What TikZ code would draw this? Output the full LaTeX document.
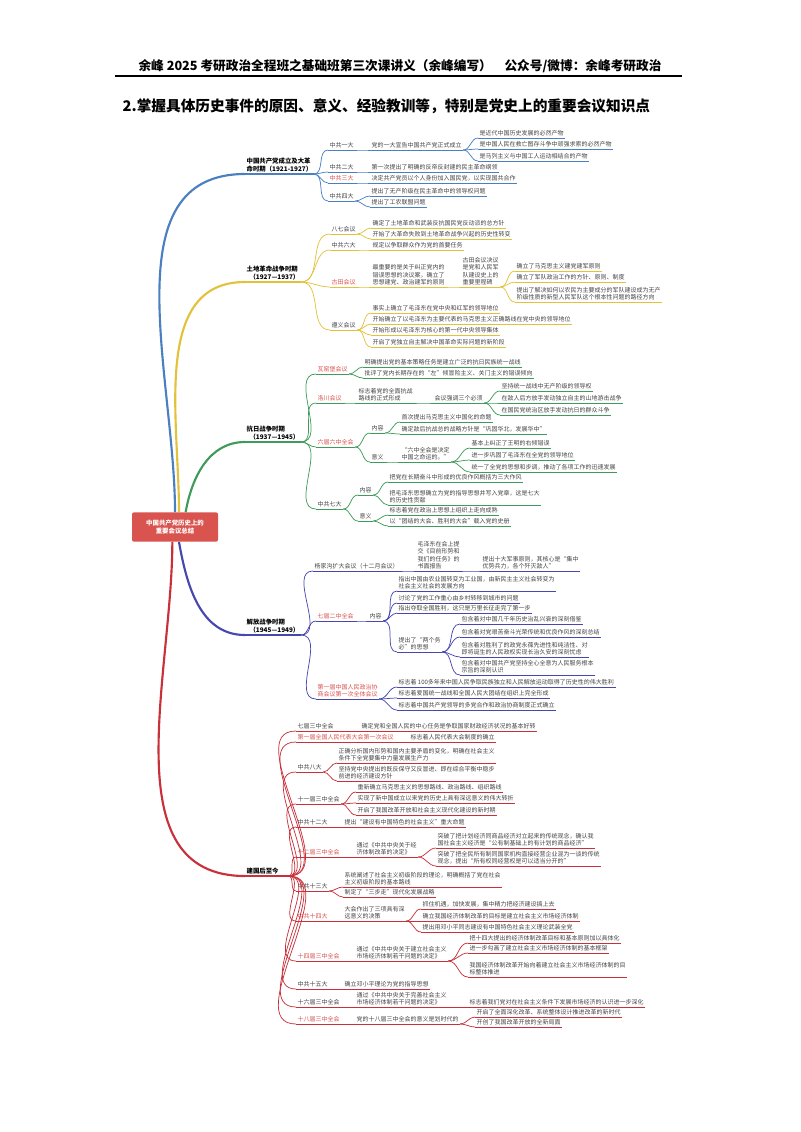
\documentclass[tikz,border=0pt]{standalone}
\usepackage{fontspec}
\setmainfont{Noto Sans CJK SC}
\definecolor{cA}{HTML}{4A7FC0}
\definecolor{cB}{HTML}{E2C23A}
\definecolor{cC}{HTML}{3E9B5A}
\definecolor{cD}{HTML}{4747B0}
\definecolor{cE}{HTML}{C8303A}
\definecolor{tx}{HTML}{444444}
\definecolor{rt}{HTML}{D9534F}
\tikzset{
  lfn/.style={anchor=south west, inner xsep=1pt, inner ysep=1.2pt, text=tx, align=left, font=\fontsize{4.5}{5.6}\selectfont},
  per/.style={lfn, text=black, font=\bfseries\fontsize{4.8}{6}\selectfont},
  hl/.style={text=rt},
}
\newcommand\lf[6][]{\node[lfn,#1] (#2) at (#3,#4) {#6}; \draw[#5,line width=0.55pt] (#2.south west) -- (#2.south east);}
\newcommand\pf[5]{\node[per] (#1) at (#2,#3) {#5}; \draw[#4,line width=0.9pt] (#1.south west) -- (#1.south east);}
\newcommand\cn[4][0.55pt]{\draw[#2,line width=#1] (#3.south east) to[out=0,in=180] (#4.south west);}
\begin{document}
\begin{tikzpicture}[x=0.75pt,y=-0.75pt]
\useasboundingbox (0,0) rectangle (800,1132);
% header
\node[font=\bfseries\fontsize{9.5}{11}\selectfont] (hdr) at (400,66) {余峰 2025 考研政治全程班之基础班第三次课讲义（余峰编写）\quad 公众号/微博：余峰考研政治};
\draw[line width=0.8pt] (115,76) -- (682,76);
\node[anchor=west,font=\bfseries\fontsize{11}{13}\selectfont] (ttl) at (118,106) {2.掌握具体历史事件的原因、意义、经验教训等，特别是党史上的重要会议知识点};
% root
\node[fill=rt,rounded corners=1.5pt,text=white,align=center,minimum width=64.5pt,minimum height=22pt,font=\bfseries\fontsize{4.8}{6.5}\selectfont] (root) at (175,527) {中国共产党历史上的\\重要会议总结};

% ===== P1
\pf{p1}{245}{174}{cA}{中国共产党成立及大革\\命时期（1921-1927）}
\lf{a1}{328}{150}{cA}{中共一大}
\lf{a1x}{370}{150}{cA}{党的一大宣告中国共产党正式成立}
\lf{a1a}{478}{138}{cA}{是近代中国历史发展的必然产物}
\lf{a1b}{478}{149}{cA}{是中国人民在救亡图存斗争中顽强求索的必然产物}
\lf{a1c}{478}{161}{cA}{是马列主义与中国工人运动相结合的产物}
\lf{a2}{328}{172}{cA}{中共二大}
\lf{a2x}{370}{172}{cA}{第一次提出了明确的反帝反封建的民主革命纲领}
\lf[hl]{a3}{328}{183}{cA}{中共三大}
\lf{a3x}{370}{183}{cA}{决定共产党员以个人身份加入国民党，以实现国共合作}
\lf{a4}{328}{201}{cA}{中共四大}
\lf{a4a}{370}{196}{cA}{提出了无产阶级在民主革命中的领导权问题}
\lf{a4b}{370}{207}{cA}{提出了工农联盟问题}
\foreach \c in {a1,a2,a3,a4} {\cn{cA}{p1}{\c}}
\cn{cA}{a1}{a1x}\foreach \c in {a1a,a1b,a1c} {\cn{cA}{a1x}{\c}}
\cn{cA}{a2}{a2x}\cn{cA}{a3}{a3x}\cn{cA}{a4}{a4a}\cn{cA}{a4}{a4b}

% ===== P2
\pf{p2}{245}{282}{cB}{土地革命战争时期\\\ \ （1927—1937）\hspace{4pt}}
\lf{b1}{330}{234}{cB}{八七会议}
\lf{b1a}{371}{228}{cB}{确定了土地革命和武装反抗国民党反动派的总方针}
\lf{b1b}{371}{239}{cB}{开始了大革命失败到土地革命战争兴起的历史性转变}
\lf{b2}{330}{250}{cB}{中共六大}
\lf{b2a}{371}{250}{cB}{规定以争取群众作为党的首要任务}
\lf[hl]{b3}{330}{287}{cB}{古田会议}
\lf{b3x}{371}{287}{cB}{最重要的是关于纠正党内的\\错误思想的决议案，确立了\\思想建党、政治建军的原则}
\lf{b3y}{461}{287}{cB}{古田会议决议\\是党和人民军\\队建设史上的\\重要里程碑}
\lf{b3a}{515}{271}{cB}{确立了马克思主义建党建军原则}
\lf{b3b}{515}{282}{cB}{确立了军队政治工作的方针、原则、制度}
\lf{b3c}{515}{302}{cB}{提出了解决如何以农民为主要成分的军队建设成为无产\\阶级性质的新型人民军队这个根本性问题的路径方向}
\lf{b4}{330}{330}{cB}{遵义会议}
\lf{b4a}{371}{313}{cB}{事实上确立了毛泽东在党中央和红军的领导地位}
\lf{b4b}{371}{324}{cB}{开始确立了以毛泽东为主要代表的马克思主义正确路线在党中央的领导地位}
\lf{b4c}{371}{335}{cB}{开始形成以毛泽东为核心的第一代中央领导集体}
\lf{b4d}{371}{347}{cB}{开启了党独立自主解决中国革命实际问题的新阶段}
\foreach \c in {b1,b2,b3,b4} {\cn{cB}{p2}{\c}}
\cn{cB}{b1}{b1a}\cn{cB}{b1}{b1b}\cn{cB}{b2}{b2a}\cn{cB}{b3}{b3x}\cn{cB}{b3x}{b3y}
\foreach \c in {b3a,b3b,b3c} {\cn{cB}{b3y}{\c}}
\foreach \c in {b4a,b4b,b4c,b4d} {\cn{cB}{b4}{\c}}

% ===== P3
\pf{p3}{245}{442}{cC}{抗日战争时期\\\ \ （1937—1945）\hspace{4pt}}
\lf[hl]{c1}{316}{374}{cC}{瓦窑堡会议}
\lf{c1a}{363}{367}{cC}{明确提出党的基本策略任务是建立广泛的抗日民族统一战线}
\lf{c1b}{363}{378}{cC}{批评了党内长期存在的“左”倾冒险主义、关门主义的错误倾向}
\lf[hl]{c2}{316}{403}{cC}{洛川会议}
\lf{c2x}{357}{403}{cC}{标志着党的全面抗战\\路线的正式形成}
\lf{c2y}{433}{403}{cC}{会议强调三个必须}
\lf{c2a}{500}{391}{cC}{坚持统一战线中无产阶级的领导权}
\lf{c2b}{500}{403}{cC}{在敌人后方放手发动独立自主的山地游击战争}
\lf{c2c}{500}{415}{cC}{在国民党统治区放手发动抗日的群众斗争}
\lf[hl]{c3}{316}{447}{cC}{六届六中全会}
\lf{c3i}{370}{433}{cC}{内容}
\lf{c3ia}{400}{422}{cC}{首次提出马克思主义中国化的命题}
\lf{c3ib}{400}{434}{cC}{确定敌后抗战总的战略方针是“巩固华北，发展华中”}
\lf{c3j}{370}{462}{cC}{意义}
\lf{c3jx}{400}{462}{cC}{“六中全会是决定\\中国之命运的。”}
\lf{c3ja}{470}{448}{cC}{基本上纠正了王明的右倾错误}
\lf{c3jb}{470}{460}{cC}{进一步巩固了毛泽东在全党的领导地位}
\lf{c3jc}{470}{472}{cC}{统一了全党的思想和步调，推动了各项工作的迅速发展}
\lf{c4}{316}{509}{cC}{中共七大}
\lf{c4i}{358}{495}{cC}{内容}
\lf{c4ia}{388}{482}{cC}{把党在长期奋斗中形成的优良作风概括为三大作风}
\lf{c4ib}{388}{505}{cC}{把毛泽东思想确立为党的指导思想并写入党章，这是七大\\的历史性贡献}
\lf{c4j}{358}{521}{cC}{意义}
\lf{c4ja}{388}{515}{cC}{标志着党在政治上思想上组织上走向成熟}
\lf{c4jb}{388}{526}{cC}{以“团结的大会、胜利的大会”载入党的史册}
\foreach \c in {c1,c2,c3,c4} {\cn{cC}{p3}{\c}}
\cn{cC}{c1}{c1a}\cn{cC}{c1}{c1b}\cn{cC}{c2}{c2x}\cn{cC}{c2x}{c2y}
\foreach \c in {c2a,c2b,c2c} {\cn{cC}{c2y}{\c}}
\cn{cC}{c3}{c3i}\cn{cC}{c3}{c3j}\cn{cC}{c3i}{c3ia}\cn{cC}{c3i}{c3ib}\cn{cC}{c3j}{c3jx}
\foreach \c in {c3ja,c3jb,c3jc} {\cn{cC}{c3jx}{\c}}
\cn{cC}{c4}{c4i}\cn{cC}{c4}{c4j}\cn{cC}{c4i}{c4ia}\cn{cC}{c4i}{c4ib}\cn{cC}{c4j}{c4ja}\cn{cC}{c4j}{c4jb}

% ===== P4
\pf{p4}{245}{635}{cD}{解放战争时期\\\ \ （1945—1949）\hspace{4pt}}
\lf{d1}{313}{571}{cD}{杨家沟扩大会议（十二月会议）}
\lf{d1x}{416}{571}{cD}{毛泽东在会上提\\交《目前形势和\\我们的任务》的\\书面报告}
\lf{d1y}{481}{571}{cD}{提出十大军事原则，其核心是“集中\\优势兵力，各个歼灭敌人”\hspace{18pt}}
\lf[hl]{d2}{316}{621}{cD}{七届二中全会}
\lf{d2x}{368}{621}{cD}{内容}
\lf{d2a}{397}{591}{cD}{指出中国由农业国转变为工业国，由新民主主义社会转变为\\社会主义社会的发展方向}
\lf{d2b}{397}{603}{cD}{讨论了党的工作重心由乡村转移到城市的问题}
\lf{d2c}{397}{613}{cD}{指出夺取全国胜利，这只是万里长征走完了第一步}
\lf{d2d}{397}{652}{cD}{提出了“两个务\\必”的思想}
\lf{d2da}{460}{624}{cD}{包含着对中国几千年历史治乱兴衰的深刻借鉴}
\lf{d2db}{460}{637}{cD}{包含着对党艰苦奋斗光荣传统和优良作风的深刻总结}
\lf{d2dc}{460}{657}{cD}{包含着对胜利了的政党永葆先进性和纯洁性、对\\即将诞生的人民政权实现长治久安的深刻忧虑}
\lf{d2dd}{460}{675}{cD}{包含着对中国共产党坚持全心全意为人民服务根本\\宗旨的深刻认识}
\lf[hl]{d3}{316}{699}{cD}{第一届中国人民政治协\\商会议第一次全体会议}
\lf{d3a}{397}{687}{cD}{标志着 100多年来中国人民争取民族独立和人民解放运动取得了历史性的伟大胜利}
\lf{d3b}{397}{698}{cD}{标志着爱国统一战线和全国人民大团结在组织上完全形成}
\lf{d3c}{397}{710}{cD}{标志着中国共产党领导的多党合作和政治协商制度正式确立}
\foreach \c in {d1,d2,d3} {\cn{cD}{p4}{\c}}
\cn{cD}{d1}{d1x}\cn{cD}{d1x}{d1y}\cn{cD}{d2}{d2x}
\foreach \c in {d2a,d2b,d2c,d2d} {\cn{cD}{d2x}{\c}}
\foreach \c in {d2da,d2db,d2dc,d2dd} {\cn{cD}{d2d}{\c}}
\foreach \c in {d3a,d3b,d3c} {\cn{cD}{d3}{\c}}

% ===== P5
\pf{p5}{245}{876}{cE}{建国后至今\hspace{6pt}}
\lf{e1}{296}{731}{cE}{七届三中全会}
\lf{e1a}{360}{731}{cE}{确定党和全国人民的中心任务是争取国家财政经济状况的基本好转}
\lf[hl]{e2}{296}{742}{cE}{第一届全国人民代表大会第一次会议}
\lf{e2a}{409}{742}{cE}{标志着人民代表大会制度的确立}
\lf{e3}{296}{772}{cE}{中共八大}
\lf{e3a}{337}{763}{cE}{正确分析国内形势和国内主要矛盾的变化，明确在社会主义\\条件下全党要集中力量发展生产力}
\lf{e3b}{337}{781}{cE}{坚持党中央提出的既反保守又反冒进、即在综合平衡中稳步\\前进的经济建设方针}
\lf{e4}{296}{804}{cE}{十一届三中全会}
\lf{e4a}{356}{792}{cE}{重新确立马克思主义的思想路线、政治路线、组织路线}
\lf{e4b}{356}{803}{cE}{实现了新中国成立以来党的历史上具有深远意义的伟大转折}
\lf{e4c}{356}{815}{cE}{开启了我国改革开放和社会主义现代化建设的新时期}
\lf{e5}{296}{827}{cE}{中共十二大}
\lf{e5a}{343}{827}{cE}{提出“建设有中国特色的社会主义”重大命题}
\lf[hl]{e6}{296}{857}{cE}{十二届三中全会}
\lf{e6x}{355}{857}{cE}{通过《中共中央关于经\\济体制改革的决定》}
\lf{e6a}{436}{848}{cE}{突破了把计划经济同商品经济对立起来的传统观念，确认我\\国社会主义经济是“公有制基础上的有计划的商品经济”}
\lf{e6b}{436}{866}{cE}{突破了把全民所有制同国家机构直接经营企业混为一谈的传统\\观念，提出“所有权同经营权是可以适当分开的”}
\lf{e7}{296}{891}{cE}{中共十三大}
\lf{e7a}{343}{887}{cE}{系统阐述了社会主义初级阶段的理论，明确概括了党在社会\\主义初级阶段的基本路线}
\lf{e7b}{343}{897}{cE}{制定了“三步走”现代化发展战略}
\lf[hl]{e8}{296}{921}{cE}{中共十四大}
\lf{e8x}{343}{921}{cE}{大会作出了三项具有深\\远意义的决策}
\lf{e8a}{421}{909}{cE}{抓住机遇，加快发展，集中精力把经济建设搞上去}
\lf{e8b}{421}{921}{cE}{确立我国经济体制改革的目标是建立社会主义市场经济体制}
\lf{e8c}{421}{932}{cE}{提出用邓小平同志建设有中国特色社会主义理论武装全党}
\lf[hl]{e9}{296}{961}{cE}{十四届三中全会}
\lf{e9x}{355}{961}{cE}{通过《中共中央关于建立社会主义\\市场经济体制若干问题的决定》}
\lf{e9a}{468}{943}{cE}{把十四大提出的经济体制改革目标和基本原则加以具体化}
\lf{e9b}{468}{953}{cE}{进一步勾画了建立社会主义市场经济体制的基本框架}
\lf{e9c}{468}{977}{cE}{我国经济体制改革开始向着建立社会主义市场经济体制的目\\标整体推进}
\lf{e10}{296}{989}{cE}{中共十五大}
\lf{e10a}{343}{989}{cE}{确立邓小平理论为党的指导思想}
\lf{e11}{296}{1007}{cE}{十六届三中全会}
\lf{e11x}{355}{1007}{cE}{通过《中共中央关于完善社会主义\\市场经济体制若干问题的决定》}
\lf{e11a}{468}{1007}{cE}{标志着我们党对在社会主义条件下发展市场经济的认识进一步深化}
\lf[hl]{e12}{296}{1024}{cE}{十八届三中全会}
\lf{e12x}{355}{1024}{cE}{党的十八届三中全会的意义是划时代的}
\lf{e12a}{475}{1017}{cE}{开启了全面深化改革、系统整体设计推进改革的新时代}
\lf{e12b}{475}{1027}{cE}{开创了我国改革开放的全新局面}
\foreach \c in {e1,e2,e3,e4,e5,e6,e7,e8,e9,e10,e11,e12} {\cn{cE}{p5}{\c}}
\cn{cE}{e1}{e1a}\cn{cE}{e2}{e2a}\cn{cE}{e3}{e3a}\cn{cE}{e3}{e3b}
\foreach \c in {e4a,e4b,e4c} {\cn{cE}{e4}{\c}}
\cn{cE}{e5}{e5a}\cn{cE}{e6}{e6x}\cn{cE}{e6x}{e6a}\cn{cE}{e6x}{e6b}
\cn{cE}{e7}{e7a}\cn{cE}{e7}{e7b}\cn{cE}{e8}{e8x}
\foreach \c in {e8a,e8b,e8c} {\cn{cE}{e8x}{\c}}
\cn{cE}{e9}{e9x}\foreach \c in {e9a,e9b,e9c} {\cn{cE}{e9x}{\c}}
\cn{cE}{e10}{e10a}\cn{cE}{e11}{e11x}\cn{cE}{e11x}{e11a}
\cn{cE}{e12}{e12x}\cn{cE}{e12x}{e12a}\cn{cE}{e12x}{e12b}

% root connectors
\draw[cA,line width=1.6pt] (root.north) to[out=90,in=180] (p1.south west);
\draw[cB,line width=1.6pt] ([xshift=3pt]root.north) to[out=90,in=180] (p2.south west);
\draw[cC,line width=1.6pt] ([xshift=8pt]root.north) to[out=80,in=180] (p3.south west);
\draw[cD,line width=1.6pt] ([xshift=3pt]root.south) to[out=-80,in=180] (p4.south west);
\draw[cE,line width=1.6pt] ([xshift=-2pt]root.south) to[out=-90,in=180] (p5.south west);
\end{tikzpicture}
\end{document}
